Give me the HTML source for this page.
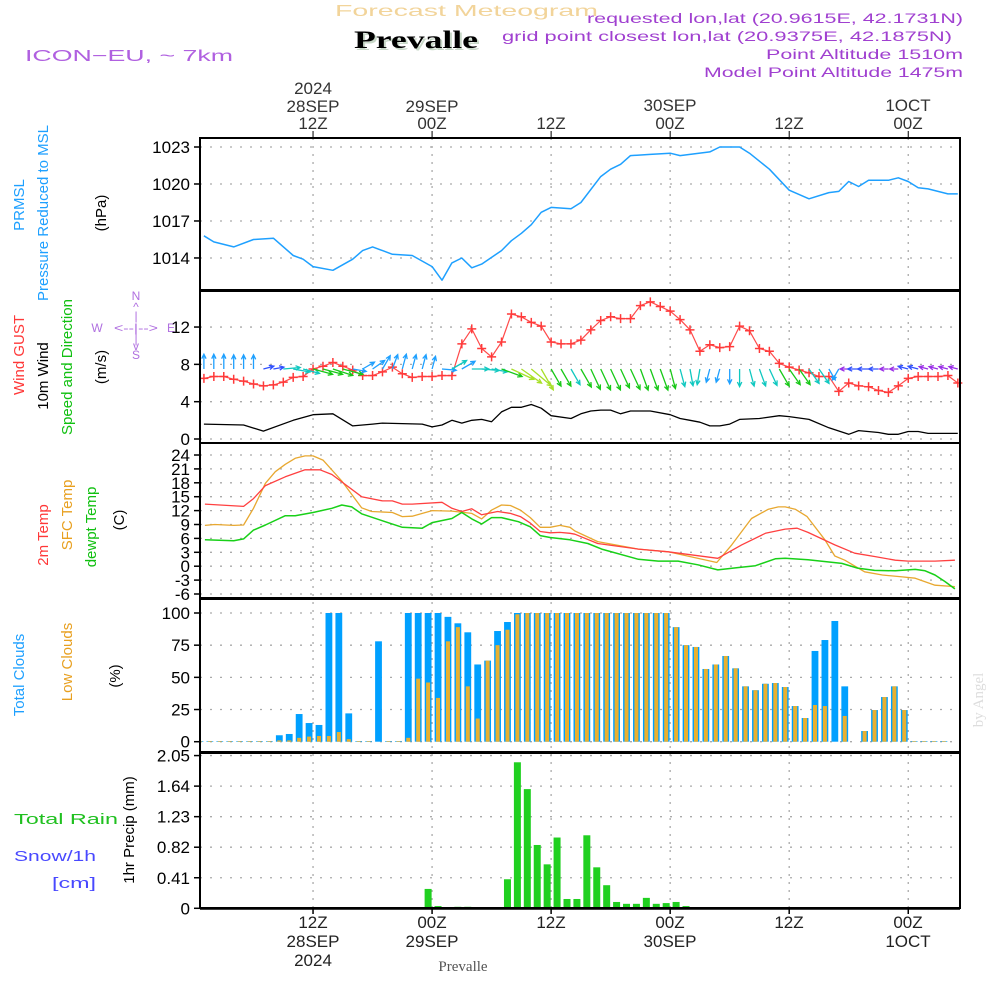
<!DOCTYPE html>
<html><head><meta charset="utf-8"><style>
html,body{margin:0;padding:0;background:#fff;}
svg{display:block;font-family:"Liberation Sans",sans-serif;}
</style></head><body>
<svg id="chart" width="1000" height="1000" viewBox="0 0 1000 1000" xmlns="http://www.w3.org/2000/svg">
<g id="static">
<text x="335" y="16" font-size="16" fill="#f2d49a" textLength="263" lengthAdjust="spacingAndGlyphs">Forecast Meteogram</text>
<text x="356" y="50" font-size="25" font-weight="bold" font-family="Liberation Serif, serif" fill="#c8d8c8" textLength="124" lengthAdjust="spacingAndGlyphs">Prevalle</text>
<text x="354" y="48" font-size="25" font-weight="bold" font-family="Liberation Serif, serif" fill="#000" textLength="124" lengthAdjust="spacingAndGlyphs">Prevalle</text>
<text x="25" y="61" font-size="16" fill="#b060e0" textLength="208" lengthAdjust="spacingAndGlyphs">ICON−EU, ~ 7km</text>
<g fill="#a040d0" font-size="14">
<text x="587" y="23" textLength="376" lengthAdjust="spacingAndGlyphs">requested lon,lat (20.9615E, 42.1731N)</text>
<text x="502" y="41" textLength="450" lengthAdjust="spacingAndGlyphs">grid point closest lon,lat (20.9375E, 42.1875N)</text>
<text x="766" y="59" textLength="197" lengthAdjust="spacingAndGlyphs">Point Altitude 1510m</text>
<text x="704" y="77" textLength="259" lengthAdjust="spacingAndGlyphs">Model Point Altitude 1475m</text>
</g>
<g fill="#333" font-size="17" text-anchor="middle">
<text x="313" y="94">2024</text><text x="313" y="112">28SEP</text><text x="313" y="129">12Z</text>
<text x="432" y="112">29SEP</text><text x="432" y="129">00Z</text>
<text x="551" y="129">12Z</text>
<text x="670" y="111">30SEP</text><text x="670" y="129">00Z</text>
<text x="789" y="129">12Z</text>
<text x="908" y="111">1OCT</text><text x="908" y="129">00Z</text>
</g>
<g fill="#222" font-size="17" text-anchor="middle">
<text x="313" y="928">12Z</text><text x="313" y="947">28SEP</text><text x="313" y="966">2024</text>
<text x="432" y="928">00Z</text><text x="432" y="947">29SEP</text>
<text x="551" y="928">12Z</text>
<text x="670" y="928">00Z</text><text x="670" y="947">30SEP</text>
<text x="789" y="928">12Z</text>
<text x="908" y="928">00Z</text><text x="908" y="947">1OCT</text>
</g>
<text x="463" y="971" font-size="15" font-family="Liberation Serif, serif" fill="#555" text-anchor="middle">Prevalle</text>
<text transform="translate(983,700) rotate(-90)" font-size="15" font-family="Liberation Serif, serif" fill="#ddd" text-anchor="middle">by Angel</text>

<g font-size="15" text-anchor="middle">
<text transform="translate(24,205) rotate(-90)" fill="#1ea0ff">PRMSL</text>
<text transform="translate(48,213) rotate(-90)" fill="#1ea0ff">Pressure Reduced to MSL</text>
<text transform="translate(106,213) rotate(-90)" fill="#000">(hPa)</text>
<text transform="translate(24,355) rotate(-90)" fill="#ff3838">Wind GUST</text>
<text transform="translate(48,376) rotate(-90)" fill="#000">10m Wind</text>
<text transform="translate(72,367) rotate(-90)" fill="#10c010">Speed and Direction</text>
<text transform="translate(106,367) rotate(-90)" fill="#000">(m/s)</text>
<text transform="translate(48,535) rotate(-90)" fill="#ff3838">2m Temp</text>
<text transform="translate(72,515) rotate(-90)" fill="#e8a020">SFC Temp</text>
<text transform="translate(96,527) rotate(-90)" fill="#10c010">dewpt Temp</text>
<text transform="translate(124,520) rotate(-90)" fill="#000">(C)</text>
<text transform="translate(24,675) rotate(-90)" fill="#1ea0ff">Total Clouds</text>
<text transform="translate(72,662) rotate(-90)" fill="#e8a020">Low Clouds</text>
<text transform="translate(120,676) rotate(-90)" fill="#000">(%)</text>
<text transform="translate(134,830) rotate(-90)" fill="#000">1hr Precip (mm)</text>
</g>
<text x="14" y="824" font-size="15" fill="#20c020" textLength="104" lengthAdjust="spacingAndGlyphs">Total   Rain</text>
<text x="14" y="861" font-size="15" fill="#4848ff" textLength="82" lengthAdjust="spacingAndGlyphs">Snow/1h</text>
<text x="52" y="888" font-size="15" fill="#4848ff" textLength="44" lengthAdjust="spacingAndGlyphs">[cm]</text>
<g fill="#b070e0" font-size="12" text-anchor="middle">
<text x="136" y="300">N</text><text x="136" y="311">^</text><text x="136" y="320">|</text>
<text x="97" y="332">W</text><text x="136" y="332" textLength="44" lengthAdjust="spacingAndGlyphs">&lt;--|--&gt;</text><text x="171" y="332">E</text>
<text x="136" y="343">|</text><text x="136" y="350">v</text><text x="136" y="359">S</text>
</g>
</g>
<g id="grid"></g>
<g id="marks"></g>
<g id="frame"></g>
</svg>
<script>
// ---- data (hours since 28SEP 00Z) ----
const pressHours = [1,2,4,6,8,10,11,12,14,16,17,18,19,20,22,24,25,26,27,28,29,31,32,33,34,35,36,38,39,41,42,43,44,46,48,49,52,53,55,56,58,60,62,64,65,66,67,68,70,71,72,73,74,76,77];
const pressVals = [1015.8,1015.3,1014.9,1015.5,1015.6,1014.2,1013.9,1013.3,1013.0,1013.9,1014.6,1014.9,1014.6,1014.3,1014.2,1013.3,1012.2,1013.6,1014.0,1013.2,1013.5,1014.6,1015.4,1016.0,1016.7,1017.7,1018.1,1018.0,1018.5,1020.6,1021.2,1021.6,1022.3,1022.4,1022.5,1022.3,1022.6,1023.0,1023.0,1022.5,1021.2,1019.5,1018.8,1019.3,1019.4,1020.2,1019.8,1020.3,1020.3,1020.5,1020.2,1019.7,1019.6,1019.2,1019.2];
const pressTicks = [1023,1020,1017,1014];

const gustVals = [6.5,6.7,6.7,6.4,6.2,5.9,5.7,5.8,6.1,6.6,6.7,7.5,7.8,8.2,7.8,7.4,6.8,6.8,7.2,7.7,7.0,6.6,6.7,6.7,6.8,6.8,10.2,11.8,9.7,8.8,10.4,13.4,13.1,12.5,12.1,10.4,10.2,10.2,10.6,11.7,12.7,13.1,12.9,12.9,14.3,14.7,14.2,13.7,12.8,11.7,9.4,10.1,9.8,9.9,12.1,11.6,9.7,9.4,8.1,7.7,7.4,7.1,6.7,6.7,5.1,6.0,5.7,5.6,5.2,5.0,5.7,6.5,6.7,6.7,6.7,6.8,6.0]; // hours 1..77
const windHours = [1,5,7,10,12,14,16,18,19,23,24,25,26,27,28,29,30,31,32,33,34,35,36,38,39,40,41,42,43,44,46,48,49,50,51,52,53,54,55,57,59,60,62,64,66,67,69,70,71,72,73,74,77];
const windVals = [1.6,1.5,0.85,2.0,2.6,2.7,1.4,1.6,1.7,1.6,1.3,1.5,2.0,1.7,2.0,2.1,1.85,2.9,3.4,3.4,3.7,3.3,2.5,2.2,2.7,3.0,3.1,3.1,2.7,3.0,3.0,2.6,2.2,2.0,1.8,1.4,1.4,1.6,2.1,2.2,2.5,2.4,2.1,1.2,0.5,0.9,0.7,0.5,0.5,0.8,0.8,0.6,0.6];
// direction arrow points to (deg clockwise from north), hours 1..77
const windDir = [0,0,0,0,0,0,75,80,85,100,105,105,105,108,105,100,60,55,30,20,15,15,15,15,95,60,60,90,95,100,110,115,125,130,150,150,150,150,150,155,155,155,155,155,160,160,160,165,165,170,190,195,195,180,180,165,160,155,150,145,145,145,145,150,210,270,270,270,270,270,270,285,285,285,285,285,285];
const windTicks = [0,4,8,12];

const t2Hours = [1.1,5,6,7.2,9.2,11.2,12.7,13.9,14.9,16.9,19,20,21,22,25,26,27,28,29,30.6,31.9,32.9,33.9,34.9,35.9,36.9,37.9,38.4,40.7,44.8,47.8,52.8,55.2,57.6,59.6,60.8,61.9,64.6,66.6,68.6,70.7,72,74.7,76.7];
const t2Vals = [13.4,12.9,14.6,17.4,19.3,20.8,20.8,19.8,18.2,15.0,14.1,14.1,13.4,13.4,13.8,12.5,11.8,12.4,11.1,11.8,11.4,10.7,9.3,7.5,7.2,7.3,7.1,6.9,4.9,3.7,3.1,1.7,4.6,7.1,8.0,8.2,7.3,4.6,2.8,2.1,1.3,1.1,1.1,1.3];
const sfcHours = [1.1,2.1,4,5,6,7.2,8.2,9.2,10.2,11.2,12,13,14.9,16.9,17.9,20,21,22,24,26,28,29,30,31,31.9,32.9,33.9,34.9,35.9,36.9,37.9,38.4,40.7,44.8,47.8,52.7,54.2,56.2,57.9,58.9,59.6,60.6,61.8,63.6,64.6,65.6,67.6,69.4,71.4,72.7,74.7,76.7];
const sfcVals = [8.8,9.0,8.8,8.9,12.5,17.9,20.4,22.0,23.3,23.8,23.8,22.9,18.4,12.6,11.8,11.6,10.7,10.8,12.0,11.9,11.4,10.2,12.1,13.2,13.1,12.1,10.5,8.4,8.4,8.8,8.4,7.6,5.3,3.7,3.1,0.8,4.6,10.3,12.3,12.8,12.8,12.3,10.7,5.7,2.2,1.3,-1.2,-1.9,-2.3,-2.6,-4.1,-4.4];
const dewHours = [1.1,4,5,6,7.2,9.2,10.2,12,13.9,14.9,15.9,16.9,19,21,23,24,26,27,28,29,30,31,32.7,33.9,34.9,35.9,37.9,39.7,41.1,44.8,46.8,48.8,50.8,52.8,54.8,56.6,58.6,59.6,61.9,65.3,66.9,68.6,70.7,72.7,73.7,74.7,75.7,76.7];
const dewVals = [5.7,5.5,5.9,7.8,8.9,10.9,10.9,11.6,12.5,13.2,12.8,11.3,9.8,8.4,8.2,9.4,10.3,11.6,10.2,9.1,10.5,10.5,9.6,8.5,6.6,6.2,5.7,4.9,3.7,1.5,1.1,1.1,0.3,-0.8,-0.3,0.1,1.6,1.7,1.4,0.6,-0.4,-0.9,-1.0,-0.7,-1.0,-1.9,-3.3,-4.9];
const tempTicks = [24,21,18,15,12,9,6,3,0,-3,-6];

// clouds, hour index 1..76
const totalCloud = [0.5,0.5,0.5,0.5,0.5,0.5,0.5,0.5,5,6,21.5,14.5,13,100,100,22,0.5,0.5,78,0.5,0.5,100,100,100,100,97,92,85,60,63,86,93,100,100,100,100,100,100,100,100,100,100,100,100,100,100,100,100,89,75,73.6,56.5,60,66.6,57,43,40,45,45.6,42.5,27.7,18.4,70.5,79,93.8,43,0,8.3,24.6,34.7,43,24.6,0.5,0.5,0.5,0.5];
const lowCloud = [0.5,0.5,0.5,0.5,0.5,0.5,0.5,0.5,1,1,3,4,4.4,4.4,7.5,2,0.5,0.5,0,0.5,0.5,3,49,46,34,78,89,43,18,63,75,87,99,100,100,100,100,100,100,100,100,100,100,100,100,100,100,100,89,75,73.6,56.5,60,66.6,57,43,40,45,45.6,42.5,27.7,18.4,28.5,27.7,0,20,0,8.3,24.6,34.7,43,24.6,0.5,0.5,0.5,0.5];
const cloudTicks = [0,25,50,75,100];

const precipHours = [24,25,26,27,28,32,33,34,35,36,37,38,39,40,41,42,43,44,45,46,47,48,49,50];
const precipVals = [0.26,0.03,0.005,0.02,0.02,0.39,1.96,1.6,0.85,0.59,0.95,0.125,0.125,0.98,0.55,0.31,0.085,0.06,0.06,0.14,0.06,0.07,0.085,0.03];
const precipTicks = [0,0.41,0.82,1.23,1.64,2.05];
const gridHours = [12,24,36,48,60,72];

// ---- scales ----
const X0 = 200, X1 = 960;
const xS = h => 194 + 9.92 * h;
const yP = v => 147 + (1023 - v) * 12.33;
const yW = v => 439 - v * 9.33;
const yT = v => 566.2 - v * 4.633;
const yC = v => 741.7 - v * 1.287;
const yR = v => 908.3 - v * 74.5;
const panels = [[138,290,yP,pressTicks,'pressure'],[291,443,yW,windTicks,'wind'],[443,598,yT,tempTicks,'temperature'],[599,752,yC,cloudTicks,'clouds'],[753,908,yR,precipTicks,'precip']];

const NS = 'http://www.w3.org/2000/svg';
function mk(tag, attrs, parent){const e=document.createElementNS(NS,tag);for(const k in attrs)e.setAttribute(k,attrs[k]);parent.appendChild(e);return e;}
const grid = document.getElementById('grid'), marks = document.getElementById('marks'), frame = document.getElementById('frame');

gridHours.forEach(h=>{
  const l = mk('line',{x1:xS(h),x2:xS(h),y1:138,y2:908,stroke:'#aaa','stroke-width':1.3,'stroke-dasharray':'2,6'},grid);
  
  
  const t1 = mk('line',{x1:xS(h),x2:xS(h),y1:131,y2:138,stroke:'#000','stroke-width':1},frame);
  
  
  const t2 = mk('line',{x1:xS(h),x2:xS(h),y1:908,y2:914,stroke:'#000','stroke-width':1.5},frame);
  
  
});
panels.forEach(p=>{
  const [top,bot,ys,ticks,name]=p;
  ticks.forEach(v=>{
    const y=ys(v);
    const g = mk('line',{x1:X0,x2:X1,y1:y,y2:y,stroke:'#aaa','stroke-width':1.3,'stroke-dasharray':'2,8'},grid);
    
    
    const tk = mk('line',{x1:X0-6,x2:X0,y1:y,y2:y,stroke:'#000','stroke-width':1.5},frame);
    
    
    const t = mk('text',{x:190,y:y+6,'font-size':17,'text-anchor':'end',fill:'#000'},frame);
    t.textContent = String(v);
    
    
  });
  const r = mk('rect',{x:X0,y:top,width:X1-X0,height:bot-top,fill:'none',stroke:'#000','stroke-width':2},frame);
  
  
});

function line(hours, vals, ys, color, name, w){
  const pts = hours.map((h,i)=>xS(h).toFixed(1)+','+ys(vals[i]).toFixed(1)).join(' ');
  const pl = mk('polyline',{points:pts,fill:'none',stroke:color,'stroke-width':w||1.5,'stroke-linejoin':'round'},marks);
  
  
}
line(pressHours, pressVals, yP, '#1ea0ff', 'pressure-line');
const gustHours = gustVals.map((v,i)=>i+1);
line(gustHours, gustVals, yW, '#ff4a4a', 'gust-line', 1.2);
gustVals.forEach((v,i)=>{
  const x=xS(i+1), y=yW(v);
  const p = mk('path',{d:`M${x-4.5},${y}H${x+4.5}M${x},${y-4.5}V${y+4.5}`,stroke:'#ff3a3a','stroke-width':1.5},marks);
  
  
});
line(windHours, windVals, yW, '#000', 'wind-speed-line', 1.3);
function nearestSpeed(h){let b=0,d=1e9;windHours.forEach((wh,i)=>{if(Math.abs(wh-h)<d){d=Math.abs(wh-h);b=i;}});return windVals[b];}
function spdColor(s){if(s<0.7)return '#9a30e8';if(s<1.2)return '#3050ff';if(s<1.8)return '#1ea0ff';if(s<2.3)return '#10c8c0';if(s<3.2)return '#18c818';return '#a8e028';}
windDir.forEach((d,i)=>{
  const h=i+1, s=nearestSpeed(h), L=6+5.5*s, a=d*Math.PI/180;
  const x0=xS(h), y0=369, x1=x0+L*Math.sin(a), y1=y0-L*Math.cos(a);
  const hl=5, a1=a+Math.PI-0.45, a2=a+Math.PI+0.45;
  const dpath=`M${x0.toFixed(1)},${y0}L${x1.toFixed(1)},${y1.toFixed(1)}M${(x1+hl*Math.sin(a1)).toFixed(1)},${(y1-hl*Math.cos(a1)).toFixed(1)}L${x1.toFixed(1)},${y1.toFixed(1)}L${(x1+hl*Math.sin(a2)).toFixed(1)},${(y1-hl*Math.cos(a2)).toFixed(1)}`;
  const p = mk('path',{d:dpath,stroke:spdColor(s),'stroke-width':1.3,fill:'none'},marks);
  
  
});
line(sfcHours, sfcVals, yT, '#e8a830', 'sfc-temp-line', 1.3);
line(t2Hours, t2Vals, yT, '#ff4040', 't2m-line', 1.3);
line(dewHours, dewVals, yT, '#18d018', 'dewpoint-line', 1.5);
totalCloud.forEach((v,i)=>{
  const xc=xS(i+1-0.4), y=yC(v);
  const r = mk('rect',{x:xc-3.4,y:y,width:6.8,height:yC(0)-y,fill:'#00a0ff'},marks);
  
  
});
lowCloud.forEach((v,i)=>{
  const xc=xS(i+1-0.4), y=yC(v);
  const r = mk('rect',{x:xc-2,y:y,width:4,height:yC(0)-y,fill:'#e8b030'},marks);
  
  
});
precipHours.forEach((h,i)=>{
  const xc=xS(h-0.4), y=yR(precipVals[i]);
  const r = mk('rect',{x:xc-3.5,y:y,width:7,height:yR(0)-y,fill:'#20d020'},marks);
  
  
});
const base = mk('line',{x1:X0,x2:X1,y1:908.5,y2:908.5,stroke:'#000','stroke-width':2.5},frame);


</script>
</body></html>
